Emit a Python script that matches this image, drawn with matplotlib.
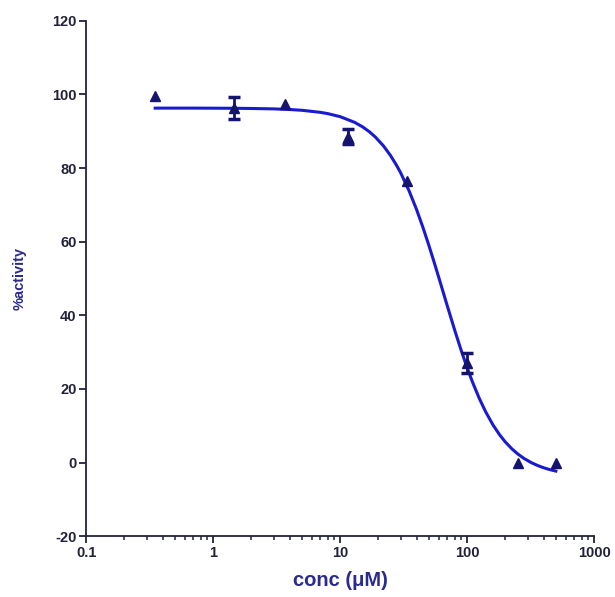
import matplotlib
matplotlib.use("Agg")
import matplotlib.pyplot as plt
from matplotlib.ticker import FixedLocator, FixedFormatter, LogLocator, NullFormatter

# measured points
conc = [0.35, 1.45, 3.7, 11.6, 33.5, 100, 250, 500]
activity = [99.6, 96.3, 97.4, 88.5, 76.5, 27.0, 0.0, 0.0]
err = [0, 2.9, 0, 2.0, 0, 2.7, 0, 0]

# fitted curve
curve_x = [0.35, 0.5, 0.7, 1, 1.5, 2, 3, 4, 5, 7, 8, 10, 13, 15, 17, 19, 22,
           25, 28, 30, 35, 40, 45, 50, 55, 60, 65, 70, 80, 90, 100, 110, 125,
           140, 160, 180, 200, 225, 250, 280, 320, 360, 400, 450, 500]
curve_y = [96.3, 96.3, 96.3, 96.28, 96.25, 96.2, 96.09, 95.92, 95.71, 95.15,
           94.8, 93.98, 92.44, 91.23, 89.88, 88.4, 86.0, 83.37, 80.6, 78.7,
           73.75, 68.75, 63.8, 59.0, 54.45, 50.16, 46.15, 42.44, 35.9, 30.38,
           25.8, 21.96, 17.35, 13.79, 10.2, 7.57, 5.58, 3.73, 2.35, 1.13,
           -0.03, -0.83, -1.42, -1.95, -2.33]

xticks = [0.1, 1, 10, 100, 1000]
xlabels = ["0.1", "1", "10", "100", "1000"]
yticks = [-20, 0, 20, 40, 60, 80, 100, 120]

axis_col = "#22223a"
mark_col = "#14146e"
line_col = "#1a1ad0"
label_col = "#2a2a90"

plt.rcParams['font.family'] = ['Liberation Sans', 'DejaVu Sans']
plt.rcParams['axes.unicode_minus'] = False

fig = plt.figure(figsize=(6.15, 5.97), dpi=100)
ax = fig.add_axes([0.14, 0.102, 0.826, 0.863])

ax.plot(curve_x, curve_y, color=line_col, lw=2.2, zorder=2)
ax.plot(conc, activity, '^', color=mark_col, ms=6.5, zorder=3)
ex = [c for c, e in zip(conc, err) if e > 0]
ey = [a for a, e in zip(activity, err) if e > 0]
ee = [e for e in err if e > 0]
ax.errorbar(ex, ey, yerr=ee, fmt='none', ecolor=mark_col, elinewidth=2,
            capsize=4.5, capthick=2.5, zorder=3)

ax.set_xscale('log')
ax.set_xlim(0.1, 1000)
ax.set_ylim(-20, 120)
ax.xaxis.set_major_locator(FixedLocator(xticks))
ax.xaxis.set_major_formatter(FixedFormatter(xlabels))
ax.xaxis.set_minor_locator(LogLocator(base=10, subs=range(2, 10)))
ax.xaxis.set_minor_formatter(NullFormatter())
ax.set_yticks(yticks)

for s in ['top', 'right']:
    ax.spines[s].set_visible(False)
for s in ['left', 'bottom']:
    ax.spines[s].set_color(axis_col)
    ax.spines[s].set_linewidth(1.3)

ax.tick_params(axis='both', which='major', direction='out', length=5, width=1.3,
               color=axis_col, labelcolor=axis_col, labelsize=10.5, pad=2)
ax.tick_params(axis='x', which='minor', direction='out', length=3, width=1.1,
               color=axis_col)
for lab in ax.get_xticklabels() + ax.get_yticklabels():
    lab.set_fontweight('bold')

ax.set_xlabel("conc (\u03bcM)", fontsize=14.5, fontweight='bold', color=label_col,
              labelpad=8)
ax.set_ylabel("%activity", fontsize=10.5, fontweight='bold', color=label_col,
              labelpad=18)

fig.savefig("out.png", dpi=100)
